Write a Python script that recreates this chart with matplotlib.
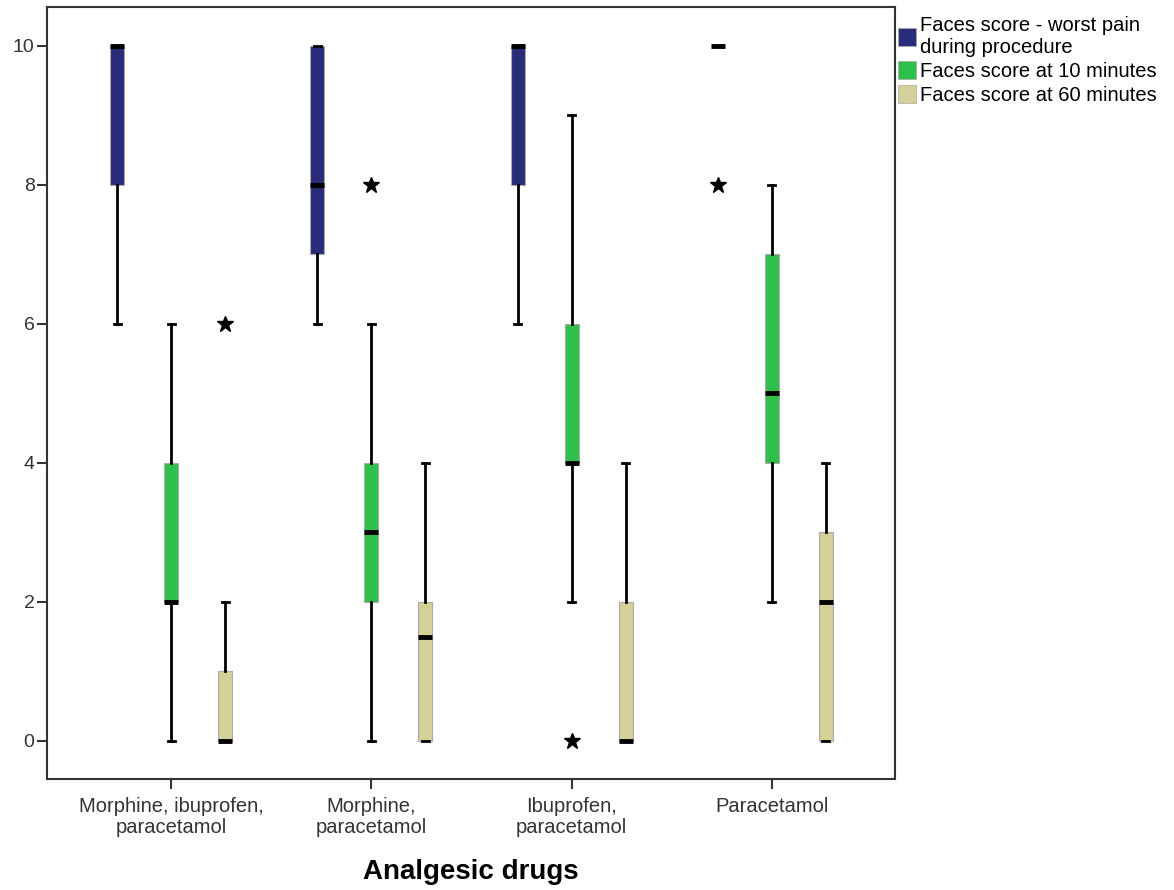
import matplotlib
matplotlib.use("Agg")
import matplotlib.pyplot as plt
from matplotlib.patches import Patch

plt.rcParams['font.family'] = ['Liberation Sans', 'DejaVu Sans']

categories = ["Morphine, ibuprofen,\nparacetamol", "Morphine,\nparacetamol",
              "Ibuprofen,\nparacetamol", "Paracetamol"]
series = ["Faces score - worst pain\nduring procedure",
          "Faces score at 10 minutes", "Faces score at 60 minutes"]
colors = ["#292c78", "#2fbf4b", "#d5cf99"]

# (whislo, q1, med, q3, whishi) per category for each series
worst = [(6, 8, 10, 10, 10), (6, 7, 8, 10, 10), (6, 8, 10, 10, 10), (10, 10, 10, 10, 10)]
min10 = [(0, 2, 2, 4, 6), (0, 2, 3, 4, 6), (2, 4, 4, 6, 9), (2, 4, 5, 7, 8)]
min60 = [(0, 0, 0, 1, 2), (0, 0, 1.5, 2, 4), (0, 0, 0, 2, 4), (0, 0, 2, 3, 4)]
# outliers (extreme) per category
worst_out = [[], [], [], [8]]
min10_out = [[], [8], [0], []]
min60_out = [[6], [], [], []]

data = [worst, min10, min60]
outs = [worst_out, min10_out, min60_out]

fig = plt.figure(figsize=(11.74, 8.9), dpi=100)
ax = fig.add_axes([47/1174, 1-779/890, (895-47)/1174, (779-7)/890])

offsets = [-0.27, 0.0, 0.27]
width = 0.07
for s in range(3):
    stats = []
    for i in range(4):
        lo, q1, med, q3, hi = data[s][i]
        stats.append(dict(whislo=lo, q1=q1, med=med, q3=q3, whishi=hi,
                          fliers=outs[s][i], label=""))
    pos = [i + offsets[s] for i in range(4)]
    ax.bxp(stats, positions=pos, widths=width, patch_artist=True,
           showfliers=True, capwidths=0.035,
           boxprops=dict(facecolor=colors[s], edgecolor="#aaaaaa", linewidth=0.8),
           medianprops=dict(color="black", linewidth=3.5, solid_capstyle="butt"),
           whiskerprops=dict(color="black", linewidth=2),
           capprops=dict(color="black", linewidth=2),
           flierprops=dict(marker="*", markersize=12, markerfacecolor="black",
                           markeredgecolor="black", linestyle="none"),
           zorder=3)

ax.set_xlim(-0.62, 3.615)
ax.set_ylim(-0.55, 10.56)
ax.set_yticks([0, 2, 4, 6, 8, 10])
ax.set_yticklabels(["0", "2", "4", "6", "8", "10"], fontsize=14, color="#333333")
ax.set_xticks(range(4))
ax.set_xticklabels(categories, fontsize=14.5, color="#333333", linespacing=1.1)
ax.tick_params(axis="both", direction="out", length=7, width=1.5, color="#333333")
ax.tick_params(axis="x", pad=6)
ax.tick_params(axis="y", pad=2)
for sp in ax.spines.values():
    sp.set_linewidth(1.5)
    sp.set_color("#333333")
ax.set_xlabel("Analgesic drugs", fontsize=20, fontweight="bold", labelpad=16)

handles = [Patch(facecolor=c, edgecolor="#aaaaaa", linewidth=0.5) for c in colors]
fig.legend(handles, series, loc="upper left", bbox_to_anchor=(896/1174, 1-14/890),
           frameon=False, fontsize=14.5, handlelength=0.9, handleheight=1.0,
           handletextpad=0.2, labelspacing=0.2, borderaxespad=0, borderpad=0.1)

fig.savefig("out.png", dpi=100)
